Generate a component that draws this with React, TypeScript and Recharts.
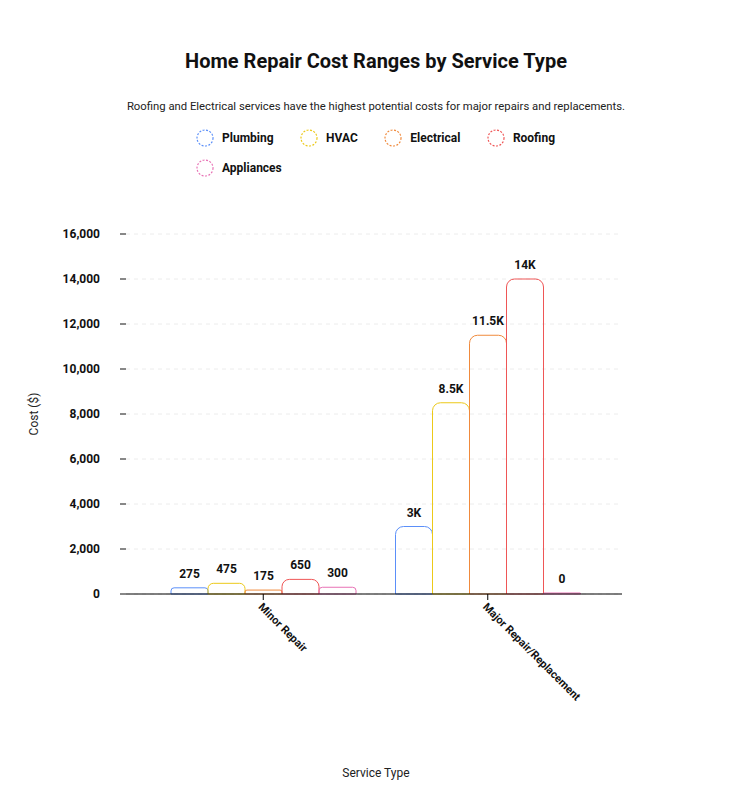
import React, { FC } from "react";
import { Bar, BarChart, CartesianGrid, LabelList, XAxis, YAxis } from "recharts";

const categories = ["Minor Repair", "Major Repair/Replacement"];
const plumbing = [275, 3000];
const hvac = [475, 8500];
const electrical = [175, 11500];
const roofing = [650, 14000];
const appliances = [300, 0];
const yTicks = [0, 2000, 4000, 6000, 8000, 10000, 12000, 14000, 16000];

const series = [
  { key: "Plumbing", values: plumbing, color: "#5b8ff9" },
  { key: "HVAC", values: hvac, color: "#ecc919" },
  { key: "Electrical", values: electrical, color: "#f08a3c" },
  { key: "Roofing", values: roofing, color: "#ef5656" },
  { key: "Appliances", values: appliances, color: "#e872b5" },
];

const data = categories.map((name, i) => {
  const row: Record<string, string | number> = { name };
  series.forEach((s) => {
    row[s.key] = s.values[i];
  });
  return row;
});

const FONT = "Roboto, 'Noto Sans', sans-serif";

const shortNum = (v: any) => {
  const n = Number(v);
  if (n >= 1000) return `${n / 1000}K`;
  return String(n);
};

const Legend: FC = () => (
  <div
    style={{
      position: "absolute",
      left: 188,
      top: 121,
      width: 400,
      display: "flex",
      flexWrap: "wrap",
      rowGap: 12,
    }}
  >
    {series.map((s) => (
      <div key={s.key} style={{ display: "flex", alignItems: "center", marginRight: 26.5, height: 18 }}>
        <svg width={18} height={18}>
          <circle cx={9} cy={9} r={8} fill="none" stroke={s.color} strokeWidth={1.2} strokeDasharray="2 1.5" />
        </svg>
        <span style={{ marginLeft: 8, fontSize: 12, fontWeight: 700, color: "#111" }}>{s.key}</span>
      </div>
    ))}
  </div>
);

const App: FC = () => {
  return (
    <div style={{ position: "relative", width: 715, height: 787, fontFamily: FONT, background: "#fff" }}>
      <div
        style={{
          position: "absolute",
          left: 118,
          width: 500,
          top: 41,
          textAlign: "center",
          fontSize: 20,
          fontWeight: 700,
          color: "#111",
        }}
      >
        Home Repair Cost Ranges by Service Type
      </div>
      <div
        style={{
          position: "absolute",
          left: 98,
          width: 540,
          top: 92,
          textAlign: "center",
          fontSize: 11.3,
          color: "#222",
        }}
      >
        Roofing and Electrical services have the highest potential costs for major repairs and replacements.
      </div>
      <Legend />
      <BarChart
        width={715}
        height={787}
        data={data}
        margin={{ top: 226, right: 101, bottom: 11, left: 0 }}
        barSize={37}
        barGap={0}
        style={{ position: "absolute", left: 0, top: 0, fontFamily: FONT }}
      >
        <CartesianGrid vertical={false} stroke="#ececec" strokeDasharray="4 4" />
        <XAxis
          dataKey="name"
          height={190}
          padding={{ left: 25, right: 22 }}
          interval={0}
          angle={45}
          textAnchor="start"
          tick={{ fontSize: 11, fontWeight: 700, fill: "#111" }}
          axisLine={{ stroke: "#000" }}
          tickLine={{ stroke: "#000" }}
          label={{ value: "Service Type", position: "insideBottom", offset: 7, dx: 2, fontSize: 12, fill: "#222" }}
        />
        <YAxis
          width={118}
          domain={[0, 16000]}
          ticks={yTicks}
          interval={0}
          axisLine={false}
          tickLine={{ stroke: "#111" }}
          tickMargin={20}
          tickFormatter={(v: number) => v.toLocaleString("en-US")}
          tick={{ fontSize: 12, fontWeight: 700, fill: "#111" }}
          label={{
            value: "Cost ($)",
            angle: -90,
            position: "insideLeft",
            offset: 26,
            fontSize: 12,
            fill: "#222",
            style: { textAnchor: "middle" },
          }}
        />
        {series.map((s) => (
          <Bar
            key={s.key}
            dataKey={s.key}
            fill="#fff"
            fillOpacity={0}
            stroke={s.color}
            strokeWidth={1}
            radius={[8, 8, 0, 0]}
            minPointSize={1}
            isAnimationActive={false}
          >
            <LabelList
              dataKey={s.key}
              position="top"
              offset={10}
              formatter={shortNum}
              style={{ fontSize: 12, fontWeight: 700, fill: "#111" }}
            />
          </Bar>
        ))}
      </BarChart>
    </div>
  );
};

export default App;
